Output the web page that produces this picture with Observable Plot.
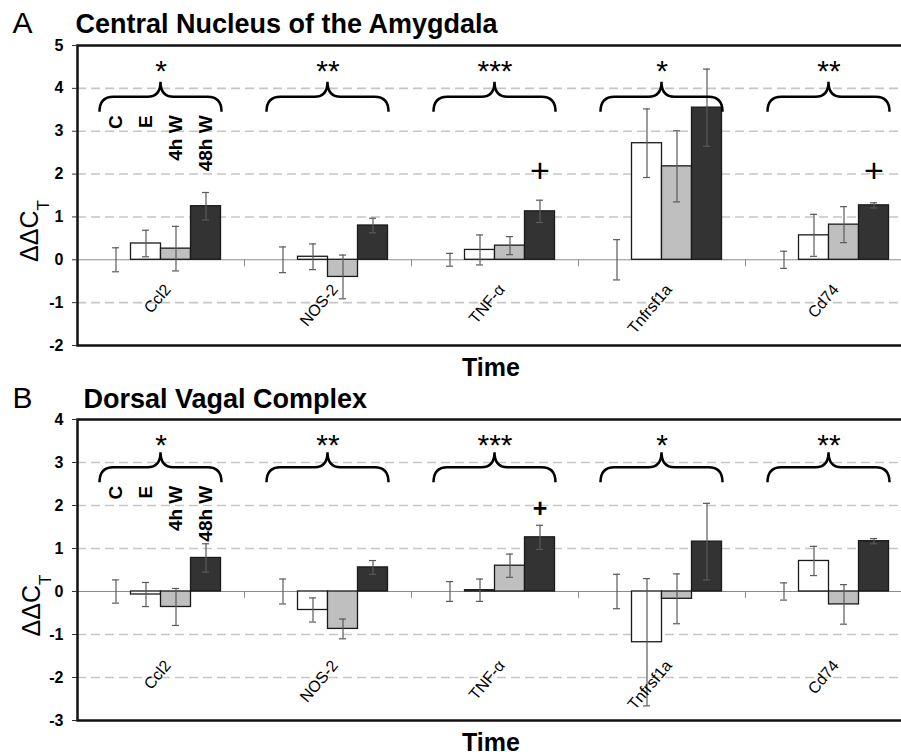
<!DOCTYPE html>
<html>
<head>
<meta charset="utf-8">
<script src="https://cdn.jsdelivr.net/npm/d3@7"></script>
<script src="https://cdn.jsdelivr.net/npm/@observablehq/plot@0.6"></script>
<style>
  html, body { margin: 0; padding: 0; background: #fff; overflow: hidden; }
  #chart svg { display: block; }
  #chart g[aria-label="y-axis tick label"] text { font-size: 16px; font-weight: bold; }
</style>
</head>
<body>
<div id="chart"></div>
<script>
// ---------- data ----------
const genes = ["Ccl2", "NOS-2", "TNF-α", "Tnfrsf1a", "Cd74"];
const conditions = ["C", "E", "4h W", "48h W"];
const stars = ["*", "**", "***", "*", "**"];

// Panel A – Central Nucleus of the Amygdala (ΔΔCT mean and error)
const cnaC = [0, 0, 0, 0, 0];
const cnaCErr = [0.28, 0.30, 0.15, 0.47, 0.20];
const cnaE = [0.38, 0.07, 0.23, 2.72, 0.57];
const cnaEErr = [0.31, 0.30, 0.35, 0.80, 0.49];
const cna4h = [0.26, -0.40, 0.33, 2.18, 0.82];
const cna4hErr = [0.52, 0.51, 0.21, 0.83, 0.42];
const cna48h = [1.25, 0.80, 1.13, 3.55, 1.27];
const cna48hErr = [0.32, 0.17, 0.26, 0.90, 0.06];
const cnaPlus = ["TNF-α", "Cd74"];
const cnaTicks = [-2, -1, 0, 1, 2, 3, 4, 5];

// Panel B – Dorsal Vagal Complex
const dvcC = [0, 0, 0, 0, 0];
const dvcCErr = [0.27, 0.29, 0.23, 0.40, 0.20];
const dvcE = [-0.07, -0.43, 0.03, -1.18, 0.71];
const dvcEErr = [0.28, 0.28, 0.26, 1.48, 0.34];
const dvc4h = [-0.36, -0.87, 0.60, -0.17, -0.30];
const dvc4hErr = [0.43, 0.23, 0.27, 0.58, 0.46];
const dvc48h = [0.78, 0.56, 1.26, 1.16, 1.17];
const dvc48hErr = [0.33, 0.16, 0.28, 0.89, 0.06];
const dvcPlus = ["TNF-α"];
const dvcTicks = [-3, -2, -1, 0, 1, 2, 3, 4];

// ---------- style ----------
const FONT = "'Liberation Sans', Arial, Helvetica, sans-serif";
const fills = ["#ffffff", "#ffffff", "#bfbfbf", "#333333"];
const BAR = 30;        // bar width (px)
const BAND = 167;      // category width (px)
const W = 912, ML = 77;

function rowsFor(means, errs) {
  return genes.map((g, i) => ({gene: g, mean: means[i], err: errs[i]}));
}

function braces(yEnd) {
  return (index, scales) => {
    const {x, y} = scales;
    const bw = x.bandwidth ? x.bandwidth() : BAND;
    const g = d3.create("svg:g").attr("fill", "none").attr("stroke", "#000").attr("stroke-width", 2.5);
    genes.forEach((gene) => {
      const cx = x(gene) + bw / 2;
      const x0 = cx - 61, x1 = cx + 61, y0 = y(yEnd), yl = y0 - 15, yt = y0 - 30;
      g.append("path").attr("d",
        `M${x0},${y0}Q${x0},${yl} ${x0 + 14},${yl}L${cx - 13},${yl}Q${cx},${yl} ${cx},${yt}` +
        `Q${cx},${yl} ${cx + 13},${yl}L${x1 - 14},${yl}Q${x1},${yl} ${x1},${y0}`);
    });
    return g.node();
  };
}

function yLabel(baseX) {
  return (index, scales, values, dims) => {
    const mid = dims.marginTop + (dims.height - dims.marginTop - dims.marginBottom) / 2;
    const t = d3.create("svg:text")
      .attr("transform", `translate(${baseX},${mid + 36}) rotate(-90)`)
      .attr("font-size", 25).attr("font-family", FONT).attr("fill", "#000");
    t.append("tspan").text("ΔΔC");
    t.append("tspan").attr("font-size", 17).attr("dy", 11).text("T");
    return t.node();
  };
}

function panel(cfg) {
  const series = cfg.series;
  const marks = [];
  const [y0, y1] = cfg.domain;
  marks.push(Plot.ruleY(cfg.ticks.filter(t => t !== 0 && t !== y0 && t !== y1),
    {stroke: "#c6c6c6", strokeWidth: 1.6, strokeDasharray: "9,5"}));
  marks.push(Plot.ruleY([0], {stroke: "#8c8c8c", strokeWidth: 1}));
  marks.push(Plot.ruleX(genes.slice(1), {x: d => d, dx: -BAND / 2, y1: 0, y2: cfg.tickLen, stroke: "#8c8c8c"}));
  conditions.forEach((c, k) => {
    const off = (k - 1.5) * BAR;
    marks.push(Plot.barY(series[k].filter(d => d.mean !== 0), {
      x: "gene", y1: 0, y2: "mean", fill: fills[k], stroke: "#1a1a1a", strokeWidth: 1.3,
      insetLeft: BAND / 2 + off - BAR / 2, insetRight: BAND / 2 - off - BAR / 2
    }));
  });
  conditions.forEach((c, k) => {
    const off = (k - 1.5) * BAR;
    marks.push(Plot.ruleX(series[k], {
      x: "gene", y1: d => d.mean - d.err, y2: d => d.mean + d.err, dx: off, stroke: "#5a5a5a", strokeWidth: 1.2
    }));
    marks.push(Plot.tickY(series[k].flatMap(d => [{gene: d.gene, v: d.mean - d.err}, {gene: d.gene, v: d.mean + d.err}]), {
      x: "gene", y: "v", dx: off, insetLeft: BAND / 2 - 3.5, insetRight: BAND / 2 - 3.5, stroke: "#5a5a5a", strokeWidth: 1.2
    }));
  });
  marks.push(Plot.frame({stroke: "#111", strokeWidth: 2.5}));
  marks.push(Plot.axisY(cfg.ticks, {tickSize: 5, tickPadding: 9, fontSize: 16, fontWeight: "bold", tickFormat: d => String(d), label: null, stroke: "#333"}));
  marks.push(braces(cfg.braceY));
  marks.push(Plot.text(genes, {x: d => d, y: () => cfg.braceY, text: (d, i) => stars[i], dy: cfg.starDy, lineAnchor: "bottom", fontSize: 30}));
  marks.push(Plot.text(cfg.plus, {x: d => d, y: () => cfg.plusY, text: () => "+", dx: 1.5 * BAR, lineAnchor: "middle", fontSize: cfg.plusSize, fontWeight: cfg.plusWeight}));
  conditions.forEach((c, k) => {
    marks.push(Plot.text([c], {x: () => genes[0], y: () => cfg.braceY, text: d => d, dx: (k - 1.5) * BAR, dy: 3, rotate: -90, textAnchor: "end", lineAnchor: "middle", fontSize: 19, fontWeight: "bold"}));
  });
  marks.push(Plot.text(genes, {x: d => d, y: () => cfg.labelY, text: d => d, dx: 2, rotate: -50, textAnchor: "end", lineAnchor: "top", fontSize: 16}));
  marks.push(Plot.text([cfg.letter], {frameAnchor: "top-left", dx: 12 - ML, dy: cfg.titleDy, textAnchor: "start", lineAnchor: "bottom", fontSize: 30}));
  marks.push(Plot.text([cfg.title], {frameAnchor: "top-left", dx: cfg.titleDx, dy: cfg.titleDy, textAnchor: "start", lineAnchor: "bottom", fontSize: 27, fontWeight: "bold"}));
  marks.push(Plot.text(["Time"], {frameAnchor: "bottom", dx: -4, dy: 30, lineAnchor: "bottom", fontSize: 25, fontWeight: "bold"}));
  marks.push(yLabel(cfg.labelX));

  return Plot.plot({
    width: W, height: cfg.height,
    marginLeft: ML, marginRight: 0, marginTop: cfg.marginTop, marginBottom: cfg.marginBottom,
    x: {type: "band", domain: genes, padding: 0, axis: null},
    y: {domain: cfg.domain, axis: null},
    style: {fontFamily: FONT, fontSize: "14px", maxWidth: "none", background: "#fff", color: "#000"},
    marks
  });
}

const chart = document.getElementById("chart");
chart.append(panel({
  letter: "A", title: "Central Nucleus of the Amygdala",
  series: [rowsFor(cnaC, cnaCErr), rowsFor(cnaE, cnaEErr), rowsFor(cna4h, cna4hErr), rowsFor(cna48h, cna48hErr)],
  plus: cnaPlus, plusY: 2.08, plusSize: 34, plusWeight: "normal",
  domain: [-2, 5], ticks: cnaTicks, height: 380, marginTop: 45, marginBottom: 35,
  braceY: 3.44, labelY: -0.53, tickLen: -0.16, titleDx: -2, titleDy: -13, labelX: 38, starDy: -31
}));
chart.append(panel({
  letter: "B", title: "Dorsal Vagal Complex",
  series: [rowsFor(dvcC, dvcCErr), rowsFor(dvcE, dvcEErr), rowsFor(dvc4h, dvc4hErr), rowsFor(dvc48h, dvc48hErr)],
  plus: dvcPlus, plusY: 1.92, plusSize: 25, plusWeight: "bold",
  domain: [-3, 4], ticks: dvcTicks, height: 376, marginTop: 39, marginBottom: 36,
  braceY: 2.53, labelY: -1.56, tickLen: -0.16, titleDx: 6, titleDy: -12, labelX: 40, starDy: -28
}));
</script>
</body>
</html>
